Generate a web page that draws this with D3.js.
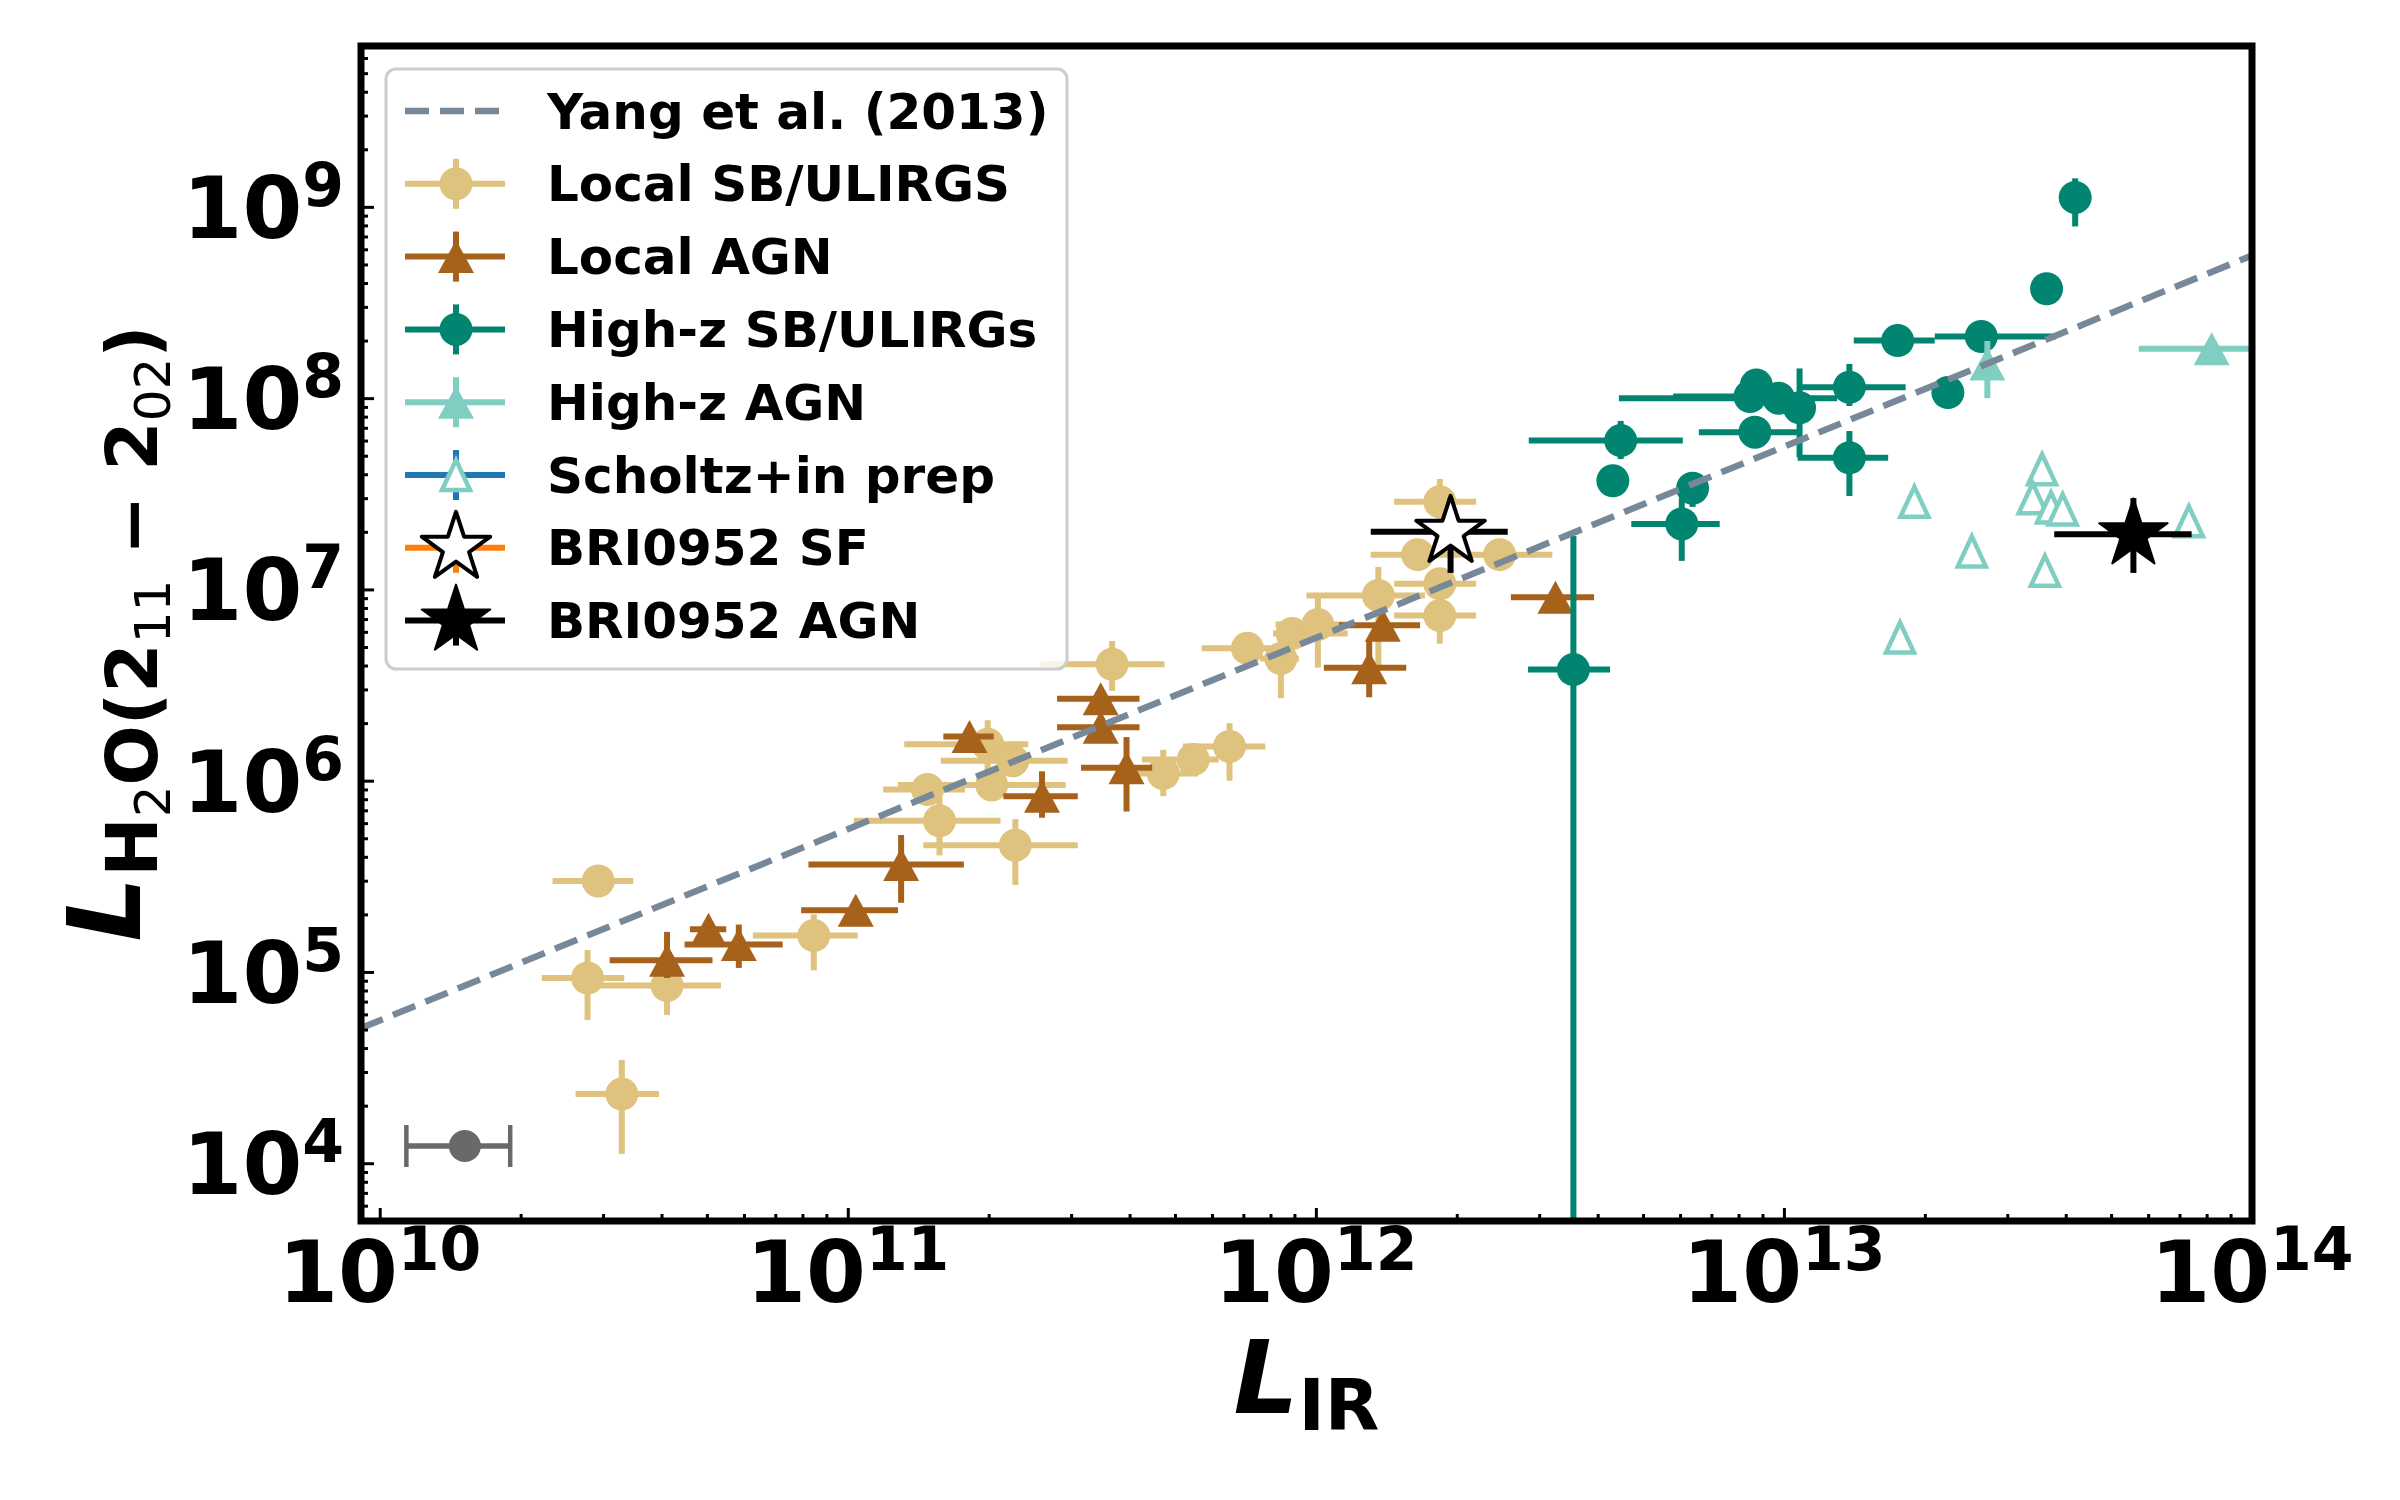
<!DOCTYPE html>
<html><head><meta charset="utf-8">
<script src="https://cdn.jsdelivr.net/npm/d3@7"></script>
<style>body{margin:0;background:#fff} text{font-family:"DejaVu Sans",sans-serif;}</style>
</head><body><svg id="c" width="2400" height="1500"></svg>
<script>
// ---------- DATA: [L_IR, L_H2O, xlo, xhi, ylo, yhi] ----------
const localSB = [
 [2.93e10,2.99e5,2.34e10,3.48e10,2.75e5,3.25e5],
 [2.78e10,9.3e4,2.22e10,3.33e10,5.6e4,1.3e5],
 [4.11e10,8.5e4,2.78e10,5.36e10,5.95e4,1.15e5],
 [3.29e10,2.3e4,2.62e10,3.95e10,1.12e4,3.47e4],
 [8.46e10,1.55e5,6.27e10,1.05e11,1.02e5,2.0e5],
 [1.57e11,6.17e5,1.03e11,2.12e11,4.07e5,8.2e5],
 [1.48e11,9.0e5,1.19e11,1.78e11,8.2e5,9.8e5],
 [1.99e11,1.55e6,1.32e11,2.43e11,1.05e6,2.07e6],
 [2.03e11,9.5e5,1.28e11,2.92e11,8.5e5,1.15e6],
 [2.25e11,1.27e6,1.58e11,2.95e11,1.15e6,1.38e6],
 [2.28e11,4.6e5,1.45e11,3.1e11,2.85e5,6.3e5],
 [3.67e11,4.06e6,2.58e11,4.75e11,2.95e6,5.37e6],
 [4.72e11,1.09e6,3.96e11,5.6e11,8.3e5,1.45e6],
 [5.47e11,1.29e6,4.25e11,6.2e11,1.15e6,1.45e6],
 [6.54e11,1.51e6,5.2e11,7.8e11,1.0e6,2.0e6],
 [7.14e11,4.92e6,5.7e11,8.35e11,4.5e6,5.4e6],
 [8.42e11,4.35e6,7.6e11,9.2e11,2.7e6,6.1e6],
 [8.9e11,5.88e6,8.1e11,1.17e12,5.4e6,6.4e6],
 [1.01e12,6.55e6,8.2e11,1.16e12,3.9e6,9.2e6],
 [1.36e12,9.3e6,9.55e11,1.71e12,3.96e6,1.31e7],
 [1.65e12,1.52e7,1.31e12,2.03e12,1.4e7,1.65e7],
 [1.84e12,2.87e7,1.47e12,2.2e12,2.18e7,3.78e7],
 [1.84e12,1.07e7,1.47e12,2.2e12,1.0e7,1.2e7],
 [1.84e12,7.3e6,1.47e12,2.2e12,5.2e6,9.1e6],
 [2.47e12,1.52e7,2.03e12,3.2e12,1.4e7,1.65e7]
];
const localAGN = [
 [4.11e10,1.15e5,3.1e10,5.14e10,9.3e4,1.62e5],
 [5.04e10,1.67e5,4.6e10,5.5e10,1.5e5,1.85e5],
 [5.85e10,1.39e5,4.48e10,7.26e10,1.05e5,1.77e5],
 [1.04e11,2.1e5,7.95e10,1.28e11,1.85e5,2.3e5],
 [1.30e11,3.65e5,8.24e10,1.77e11,2.3e5,5.2e5],
 [1.82e11,1.7e6,1.6e11,2.05e11,1.55e6,1.85e6],
 [2.6e11,8.3e5,2.15e11,3.1e11,6.4e5,1.12e6],
 [3.47e11,2.68e6,2.8e11,4.2e11,2.45e6,2.95e6],
 [3.47e11,1.9e6,2.8e11,4.2e11,1.75e6,2.05e6],
 [3.94e11,1.17e6,3.15e11,4.47e11,6.9e5,1.69e6],
 [1.30e12,3.9e6,1.04e12,1.56e12,2.73e6,5.4e6],
 [1.39e12,6.5e6,1.12e12,1.67e12,6.0e6,7.0e6],
 [3.25e12,9.1e6,2.61e12,3.93e12,8.4e6,9.8e6]
];
const highzSB = [
 [4.19e13,1.12e9,4.1e13,4.28e13,7.9e8,1.41e9],
 [3.64e13,3.73e8,3.5e13,3.78e13,3.5e8,3.95e8],
 [1.75e13,2.0e8,1.41e13,2.1e13,1.75e8,2.3e8],
 [2.64e13,2.1e8,2.1e13,3.81e13,1.95e8,2.25e8],
 [2.24e13,1.07e8,2.2e13,2.28e13,1.0e8,1.14e8],
 [1.38e13,1.14e8,1.07e13,1.82e13,9.1e7,1.51e8],
 [8.73e12,1.17e8,8.5e12,9.0e12,1.05e8,1.3e8],
 [8.46e12,1.02e8,5.8e12,1.07e13,9.5e7,1.1e8],
 [9.74e12,1.0e8,4.44e12,1.3e13,9.5e7,1.05e8],
 [1.08e13,8.9e7,1.05e13,1.12e13,4.9e7,1.43e8],
 [1.38e13,4.88e7,1.07e13,1.67e13,3.08e7,6.73e7],
 [8.67e12,6.64e7,6.58e12,1.07e13,5.5e7,8.0e7],
 [4.48e12,6.0e7,2.85e12,6.08e12,4.8e7,7.6e7],
 [4.31e12,3.7e7,4.2e12,4.4e12,3.5e7,3.9e7],
 [6.38e12,3.38e7,6.2e12,6.55e12,2.7e7,4.0e7],
 [6.05e12,2.2e7,4.72e12,7.29e12,1.41e7,3.0e7],
 [3.55e12,3.81e6,2.84e12,4.25e12,1e2,1.9e7]
];
const highzAGN = [
 [2.72e13,1.51e8,2.65e13,2.8e13,1.0e8,1.99e8],
 [8.2e13,1.81e8,5.73e13,1.2e14,1.7e8,1.92e8]
];
const scholtz = [
 [1.9e13,2.87e7],[3.56e13,4.25e7],[3.4e13,3.0e7],[3.72e13,2.68e7],[3.94e13,2.62e7],
 [2.52e13,1.58e7],[3.61e13,1.25e7],[1.77e13,5.6e6],[7.33e13,2.27e7]
];
const briSF  = [[1.94e12,2.0e7,1.31e12,2.57e12,1.22e7,3.0e7]];
const briAGN = [[5.58e13,1.94e7,3.78e13,7.43e13,1.22e7,3.0e7]];
const refErr = [[1.52e10,1.23e4,1.14e10,1.9e10]];
const yangX = [9.1e9, 1e14];
const yangY = [5.08e4, 5.57e8];
const xMajor = [1e10,1e11,1e12,1e13,1e14];
const xExp   = ["10","11","12","13","14"];
const yMajor = [1e4,1e5,1e6,1e7,1e8,1e9];
const yExp   = ["4","5","6","7","8","9"];
const legendLabels = ["Yang et al. (2013)","Local SB/ULIRGS","Local AGN","High-z SB/ULIRGs","High-z AGN","Scholtz+in prep","BRI0952 SF","BRI0952 AGN"];

// ---------- STYLE ----------
const C = {tan:"#dfc27d", brown:"#a6611a", teal:"#018571", lteal:"#80cdc1", blue:"#1f77b4", orange:"#ff7f0e", slate:"#778899", gray:"#696969"};
const M = {left:361,right:2252,top:46,bottom:1221};
const EW = 6;
const svg = d3.select("#c");
svg.append("rect").attr("width",2400).attr("height",1500).attr("fill","#fff");
const x = d3.scaleLog().domain([Math.pow(10,9.96),1e14]).range([M.left,M.right]);
const y = d3.scaleLog().domain([Math.pow(10,3.698),Math.pow(10,9.841)]).range([M.bottom,M.top]);

svg.append("clipPath").attr("id","clip").append("rect")
  .attr("x",M.left).attr("y",M.top).attr("width",M.right-M.left).attr("height",M.bottom-M.top);
const plot = svg.append("g").attr("clip-path","url(#clip)");

function starPath(R){
  const r=R*0.382, pts=[];
  for(let i=0;i<10;i++){const a=-Math.PI/2+i*Math.PI/5, rr=i%2?r:R; pts.push([rr*Math.cos(a),rr*Math.sin(a)]);}
  return "M"+pts.map(p=>p[0].toFixed(2)+","+p[1].toFixed(2)).join("L")+"Z";
}
function triPath(w,h){return `M0,${-h/2}L${w/2},${h/2}L${-w/2},${h/2}Z`;}
function drawMarker(g,type,cx,cy,col){
  if(type==="circle") g.append("circle").attr("cx",cx).attr("cy",cy).attr("r",16.5).attr("fill",col);
  else if(type==="tri") g.append("path").attr("d",triPath(36,33)).attr("transform",`translate(${cx},${cy})`).attr("fill",col);
  else if(type==="otri") g.append("path").attr("d",triPath(28,30)).attr("transform",`translate(${cx},${cy})`).attr("fill","#fff").attr("stroke",col).attr("stroke-width",4.5);
  else if(type==="ostar") g.append("path").attr("d",starPath(36)).attr("transform",`translate(${cx},${cy})`).attr("fill","#fff").attr("stroke","#000").attr("stroke-width",4).attr("stroke-linejoin","round");
  else if(type==="star") g.append("path").attr("d",starPath(36)).attr("transform",`translate(${cx},${cy})`).attr("fill","#000").attr("stroke","#000").attr("stroke-width",2).attr("stroke-linejoin","round");
}
function drawSeries(data,col,type,ecol){
  const g = plot.append("g");
  data.forEach(d=>{
    if(d.length>2){
      g.append("line").attr("x1",x(d[2])).attr("x2",x(d[3])).attr("y1",y(d[1])).attr("y2",y(d[1])).attr("stroke",ecol||col).attr("stroke-width",EW);
      g.append("line").attr("x1",x(d[0])).attr("x2",x(d[0])).attr("y1",y(d[4])).attr("y2",y(d[5])).attr("stroke",ecol||col).attr("stroke-width",EW);
    }
  });
  data.forEach(d=>drawMarker(g,type,x(d[0]),y(d[1]),col));
}
drawSeries(localSB,C.tan,"circle");
drawSeries(localAGN,C.brown,"tri");
drawSeries(highzSB,C.teal,"circle");
drawSeries(highzAGN,C.lteal,"tri");
drawSeries(scholtz,C.lteal,"otri");
drawSeries(briSF,"#000","ostar","#000");
drawSeries(briAGN,"#000","star","#000");

// reference error bar
refErr.forEach(d=>{
  const g=plot.append("g"), yy=y(d[1]);
  g.append("line").attr("x1",x(d[2])).attr("x2",x(d[3])).attr("y1",yy).attr("y2",yy).attr("stroke",C.gray).attr("stroke-width",5.5);
  [d[2],d[3]].forEach(v=>g.append("line").attr("x1",x(v)).attr("x2",x(v)).attr("y1",yy-21).attr("y2",yy+21).attr("stroke",C.gray).attr("stroke-width",4.5));
  g.append("circle").attr("cx",x(d[0])).attr("cy",yy).attr("r",16).attr("fill",C.gray);
});

// Yang et al. relation
plot.append("path").attr("d",d3.line()(yangX.map((v,i)=>[x(v),y(yangY[i])])))
  .attr("stroke",C.slate).attr("stroke-width",6.5).attr("fill","none").attr("stroke-dasharray","24,11");

// ---------- AXES ----------
const minorX=[],minorY=[];
for(let e=9;e<14;e++)for(let k=2;k<10;k++){const v=k*Math.pow(10,e); if(v>x.domain()[0]&&v<1e14)minorX.push(v);}
for(let e=3;e<10;e++)for(let k=2;k<10;k++){const v=k*Math.pow(10,e); if(v>y.domain()[0]&&v<y.domain()[1])minorY.push(v);}
function ax(gen,vals,size,tr){
  const g=svg.append("g").attr("transform",tr).call(gen.tickValues(vals).tickSize(size).tickSizeOuter(0).tickFormat(""));
  g.select(".domain").remove(); g.selectAll(".tick line").attr("stroke","#000").attr("stroke-width",3);
  return g;
}
ax(d3.axisBottom(x),xMajor,-13,`translate(0,${M.bottom})`);
ax(d3.axisBottom(x),minorX,-7,`translate(0,${M.bottom})`);
ax(d3.axisLeft(y),yMajor,-13,`translate(${M.left},0)`);
ax(d3.axisLeft(y),minorY,-7,`translate(${M.left},0)`);
svg.append("rect").attr("x",M.left).attr("y",M.top).attr("width",M.right-M.left).attr("height",M.bottom-M.top)
  .attr("fill","none").attr("stroke","#000").attr("stroke-width",7);

xMajor.forEach((v,i)=>{
  const t=svg.append("text").attr("x",x(v)).attr("y",1302).attr("text-anchor","middle").attr("font-weight","bold").attr("font-size",86);
  t.append("tspan").text("10"); t.append("tspan").attr("font-size",60).attr("dy",-32).text(xExp[i]);
});
yMajor.forEach((v,i)=>{
  const t=svg.append("text").attr("x",344).attr("y",y(v)+31).attr("text-anchor","end").attr("font-weight","bold").attr("font-size",86);
  t.append("tspan").text("10"); t.append("tspan").attr("font-size",60).attr("dy",-32).text(yExp[i]);
});
// x label
const xl=svg.append("text").attr("x",(M.left+M.right)/2).attr("y",1413).attr("text-anchor","middle").attr("font-weight","bold").attr("font-size",102);
xl.append("tspan").attr("font-style","italic").text("L");
xl.append("tspan").attr("font-size",71).attr("dy",17).text("IR");
// y label
const yl=svg.append("text").attr("transform",`translate(140,${(M.top+M.bottom)/2}) rotate(-90)`).attr("text-anchor","middle").attr("font-weight","bold").attr("font-size",102);
yl.append("tspan").attr("font-style","italic").text("L");
yl.append("tspan").attr("font-size",71).attr("dy",17).text("H");
yl.append("tspan").attr("font-size",50).attr("font-weight","normal").attr("dy",13).text("2");
yl.append("tspan").attr("font-size",71).attr("dy",-13).text("O(2");
yl.append("tspan").attr("font-size",50).attr("font-weight","normal").attr("dy",13).text("11");
yl.append("tspan").attr("font-size",71).attr("dy",-13).text(" \u2212 2");
yl.append("tspan").attr("font-size",50).attr("font-weight","normal").attr("dy",13).text("02");
yl.append("tspan").attr("font-size",71).attr("dy",-13).text(")");

// ---------- LEGEND ----------
const lg=svg.append("g");
lg.append("rect").attr("x",386).attr("y",69).attr("width",681).attr("height",600).attr("rx",10)
  .attr("fill","#fff").attr("fill-opacity",0.8).attr("stroke","#cccccc").attr("stroke-width",3);
const rowY=i=>111+i*72.8, hx0=405, hx1=505, hc=456;
const handles=[
  {kind:"line"},
  {col:C.tan,m:"circle"},{col:C.brown,m:"tri"},{col:C.teal,m:"circle"},{col:C.lteal,m:"tri"},
  {col:C.lteal,m:"otri",ecol:C.blue},{col:"#000",m:"ostar",ecol:C.orange},{col:"#000",m:"star",ecol:"#000"}
];
handles.forEach((h,i)=>{
  const cy=rowY(i);
  if(h.kind==="line"){
    lg.append("line").attr("x1",hx0).attr("x2",hx1).attr("y1",cy).attr("y2",cy).attr("stroke",C.slate).attr("stroke-width",6.5).attr("stroke-dasharray","24,11");
  } else {
    const ec=h.ecol||h.col;
    lg.append("line").attr("x1",hx0).attr("x2",hx1).attr("y1",cy).attr("y2",cy).attr("stroke",ec).attr("stroke-width",EW);
    lg.append("line").attr("x1",hc).attr("x2",hc).attr("y1",cy-25).attr("y2",cy+25).attr("stroke",ec).attr("stroke-width",EW);
    drawMarker(lg,h.m,hc,cy,h.col);
  }
  lg.append("text").attr("x",547).attr("y",cy+17.5).attr("font-weight","bold").attr("font-size",50).text(legendLabels[i]);
});
</script></body></html>
